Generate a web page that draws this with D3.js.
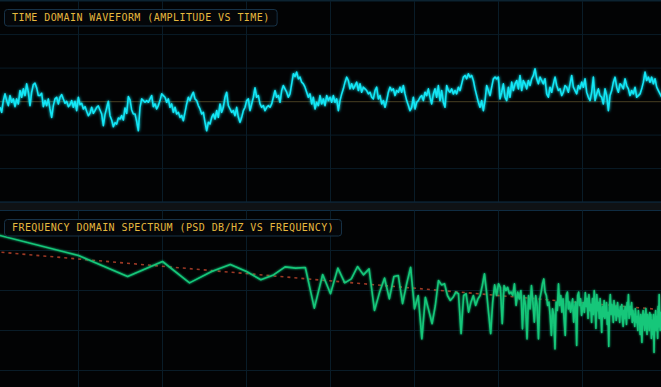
<!DOCTYPE html>
<html><head><meta charset="utf-8">
<script src="https://cdn.jsdelivr.net/npm/d3@7"></script>
<style>html,body{margin:0;padding:0;background:#020304;overflow:hidden}</style>
</head><body><svg id="c" width="661" height="387"></svg>
<script>
// ---------- DATA ----------
const waveform = [
-0.17,-0.32,0.03,0.23,0.03,-0.12,0.18,-0.02,0.08,-0.15,
0.08,-0.07,0.33,0.13,0.38,0.18,0.53,0.28,-0.12,0.28,
0.51,0.55,0.41,0.18,0.18,0.25,-0.15,0.03,-0.12,0.08,
-0.22,-0.47,-0.12,0.08,0.13,-0.07,0.13,0.21,0.08,-0.05,
0.01,-0.15,-0.09,0.03,-0.17,0.01,-0.27,0.13,-0.09,-0.05,
-0.22,-0.15,-0.29,-0.42,-0.35,-0.17,-0.35,-0.27,-0.17,-0.13,
-0.25,-0.37,-0.72,-0.39,-0.19,0.01,-0.42,-0.55,-0.75,-0.63,
-0.67,-0.49,-0.52,-0.42,-0.55,-0.19,-0.35,0.15,0.05,-0.25,
-0.37,-0.37,-0.59,-0.87,-0.17,0.08,0.03,-0.02,0.03,-0.02,
0.08,0.18,-0.15,-0.07,-0.22,-0.12,0.03,0.23,0.18,0.13,
-0.02,0.08,-0.17,-0.07,-0.32,-0.17,-0.37,-0.32,-0.47,-0.42,
-0.57,-0.32,-0.07,0.13,0.03,0.18,0.28,0.08,0.03,-0.12,
-0.22,-0.37,-0.32,-0.62,-0.87,-0.62,-0.67,-0.47,-0.37,-0.52,
-0.27,-0.47,-0.07,-0.32,-0.17,0.13,0.28,-0.12,-0.22,-0.32,
-0.27,-0.42,-0.17,-0.47,-0.62,-0.47,-0.27,-0.17,0.03,0.08,
-0.27,-0.07,0.13,0.41,0.13,0.18,-0.07,-0.17,-0.12,-0.27,
-0.17,-0.12,-0.17,-0.07,0.13,0.33,0.13,0.18,-0.02,0.33,
0.48,0.38,0.28,0.13,0.23,0.53,0.83,0.75,0.88,0.68,
0.73,0.58,0.53,0.43,0.28,0.13,0.23,-0.07,0.13,-0.22,
-0.02,-0.12,0.18,-0.07,0.08,-0.12,0.18,0.03,
0.13,-0.02,0.18,-0.02,0.08,-0.27,0.03,0.23,0.38,0.58,
0.73,0.63,0.38,0.53,0.38,0.48,0.58,0.33,0.53,0.28,
0.43,0.38,0.33,0.23,0.28,0.13,0.08,0.33,0.43,0.08,
0.18,-0.07,0.03,-0.17,0.03,0.28,0.43,0.33,0.38,0.18,
0.33,0.28,0.43,0.28,0.48,0.23,0.03,-0.12,-0.27,-0.17,
0.13,-0.22,-0.02,0.03,0.13,0.18,0.03,0.28,0.18,0.38,
0.13,-0.07,0.23,0.38,0.13,0.48,0.03,0.33,-0.02,-0.17,
0.48,0.33,0.28,0.38,0.23,0.33,0.23,0.43,0.33,0.53,
0.73,0.78,0.68,0.83,0.73,0.78,0.63,0.38,0.18,-0.02,
-0.17,0.03,-0.27,0.03,0.48,0.33,0.18,0.43,0.68,0.73,
0.68,0.73,0.08,0.28,0.53,0.13,0.03,0.43,0.13,0.58,
0.33,0.53,0.63,0.38,0.78,0.33,0.63,0.53,0.38,0.63,
0.48,0.68,0.78,0.98,0.68,0.53,0.73,0.63,0.53,0.68,
0.23,0.13,0.43,0.28,0.53,0.73,0.48,0.33,0.38,0.18,
0.28,0.48,0.43,0.28,0.53,0.78,0.43,0.33,0.23,0.48,
0.38,0.58,0.43,0.68,0.28,0.13,0.03,0.28,0.73,0.03,
0.23,0.38,0.18,0.13,-0.07,0.38,0.18,-0.27,0.18,0.33,
0.58,0.73,0.43,0.28,0.53,0.48,0.38,0.68,0.48,0.38,
0.18,0.33,0.23,0.43,0.13,0.18,0.23,0.38,0.58,0.88,
0.63,0.73,0.58,0.73,0.53,0.68,0.43,0.33,0.23,0.13
];

const spectrumDb = [
-15.9,-21.25,-26.5,-22.75,-28.1,-25.25,-23.5,-25.25,-27.3,-26.1,
-24.1,-24.4,-24.25,-34.4,-26,-30.8,-24.4,-28.1,-27.1,-24,
-26.1,-24.6,-35,-30.4,-26.9,-32.1,-26.5,-26.25,-33.3,-28.3,
-24.2,-34.6,-31.25,-42.1,-31.7,-35,-38.3,-33.75,-27.5,-28.6,
-28.3,-31.25,-32.5,-31.7,-30.4,-30.8,-40.8,-31.25,-30.8,-35.4,
-32.9,-31.25,-33.75,-32.1,-31.25,-28.75,-25.8,-30.4,-35.8,-40.8,
-32.9,-28.6,-31.25,-28.3,-29.2,-38.3,-28.75,-30,-29.2,-30.8,
-30.4,-31.25,-28.3,-33.75,-30.4,-32.1,-30,-39.6,-31.25,-33.75,
-42.1,-31.25,-34.6,-28.75,-32.9,-37.9,-31.25,-33.75,-42.1,-32.1,
-30.4,-28.3,-27.1,-30.4,-31.25,-33.75,-32.9,-36.25,-41.25,-34.6,
-36.25,-44.6,-32.9,-35,-28.3,-33.75,-31.25,-35.4,-32.1,-37.1,
-41.25,-31.25,-30.4,-34.6,-32.9,-35.4,-33.75,-32.1,-37.9,-34.6,
-32.9,-43.75,-31.25,-30.4,-33.75,-32.1,-36.25,-34.6,
-33,-35.5,-30.5,-34,-32,-37,-31,-35,-33.5,-38,-32,-36,
-30,-34,-39.5,-31,-35,-33,-37,-32,-36,-40.5,
-34,-36.5,-32.5,-37,-35,-33,-38.5,-35.5,-44,-34,
-31,-36,-33.5,-35,-38,-32.5,-36,-34,-37.5,-35,
-33,-36.5,-35,-38,-34,-36,-33.5,-37,-39,-35,
-37,-34,-36,-38.5,-33,-35,-31,-37,-35.5,-34,
-36,-33,-38,-35,-37.5,-36,-39,-34.5,-37,-38,
-36.5,-40,-35,-38,-37,-41,-36,-39,-43,-37,
-35,-38.5,-36,-40,-37,-34.5,-39,-41,-36,-38,
-37,-40,-35.5,-39,-36,-42,-37.5,-38,-41,-36,
-45.5,-37,-39,-35,-40,-36.5,-38,-42,-34,-39,
-31,-37,-40,-35.5,-38,
-36,-39,-37,-41,-35,-38,-40,-36,-39,-37,-38
];
const spectrumFreq = spectrumDb.map((d, i) => i + 1); // FFT bin frequencies (Hz)

const trendFreq = [1, 256];
const trendDb = [-20.3, -34.9];

const titles = ["TIME DOMAIN WAVEFORM (AMPLITUDE VS TIME)", "FREQUENCY DOMAIN SPECTRUM (PSD DB/HZ VS FREQUENCY)"];
const ampTicks = [-3, -2, -1, 1, 2, 3];
const timeTicks = [1, 2, 3, 4, 5, 6, 7];
const dbTicks = [-20, -30, -40, -50];
const freqTicks = [2, 4, 8, 16, 32, 64, 128];

// ---------- LAYOUT ----------
const svg = d3.select("#c");
const X0 = -5.5, X1 = 666.5;
const topY0 = 1.1, topY1 = 202.1;
const botY0 = 210.5, botY1 = 410.5;
const gridCol = "#091c28";

const defs = svg.append("defs");
const glow = defs.append("filter").attr("id", "glow").attr("x", "-5%").attr("y", "-20%").attr("width", "110%").attr("height", "140%");
glow.append("feGaussianBlur").attr("in", "SourceGraphic").attr("stdDeviation", 1.4).attr("result", "b");
const m = glow.append("feMerge");
m.append("feMergeNode").attr("in", "b");
m.append("feMergeNode").attr("in", "SourceGraphic");
const glow2 = defs.append("filter").attr("id", "glow2").attr("x", "-5%").attr("y", "-20%").attr("width", "110%").attr("height", "140%");
glow2.append("feGaussianBlur").attr("in", "SourceGraphic").attr("stdDeviation", 0.8).attr("result", "b");
const m2 = glow2.append("feMerge");
m2.append("feMergeNode").attr("in", "b");
m2.append("feMergeNode").attr("in", "SourceGraphic");
defs.append("clipPath").attr("id", "clipBot").append("rect").attr("x", X0).attr("y", botY0).attr("width", X1 - X0).attr("height", botY1 - botY0);
defs.append("clipPath").attr("id", "clipTop").append("rect").attr("x", X0).attr("y", topY0).attr("width", X1 - X0).attr("height", topY1 - topY0);

svg.append("rect").attr("width", 661).attr("height", 387).attr("fill", "#020304");

// ---------- TOP PANEL ----------
const xWave = d3.scaleLinear().domain([0, waveform.length - 1]).range([0, 661.7]);
const xTime = d3.scaleLinear().domain([0, 8]).range([X0, X1]);
const yAmp = d3.scaleLinear().domain([-3, 3]).range([topY1, topY0]);

const gTop = svg.append("g");
gTop.selectAll(".hg").data(ampTicks).join("line")
  .attr("x1", X0).attr("x2", X1).attr("y1", d => yAmp(d)).attr("y2", d => yAmp(d))
  .attr("stroke", gridCol).attr("stroke-width", 1);
gTop.selectAll(".vg").data(timeTicks).join("line")
  .attr("x1", d => xTime(d)).attr("x2", d => xTime(d)).attr("y1", topY0).attr("y2", topY1)
  .attr("stroke", gridCol).attr("stroke-width", 1);
gTop.append("line").attr("x1", X0).attr("x2", X1).attr("y1", yAmp(0)).attr("y2", yAmp(0))
  .attr("stroke", "#3a331c").attr("stroke-width", 1.2);

gTop.append("path").datum(waveform)
  .attr("clip-path", "url(#clipTop)")
  .attr("fill", "none").attr("stroke", "#12e6f5").attr("stroke-width", 1.6)
  .attr("stroke-linejoin", "round")
  .attr("filter", "url(#glow)")
  .attr("d", d3.line().x((d, i) => xWave(i)).y(d => yAmp(d)));

// separator
svg.append("rect").attr("x", X0).attr("y", topY1).attr("width", X1 - X0).attr("height", botY0 - topY1).attr("fill", "#0f1215");
[topY1, botY0].forEach(y => svg.append("line").attr("x1", X0).attr("x2", X1).attr("y1", y).attr("y2", y).attr("stroke", "#0f2c42").attr("stroke-width", 1));
svg.append("line").attr("x1", X0).attr("x2", X1).attr("y1", topY0 - 0.5).attr("y2", topY0 - 0.5).attr("stroke", "#0e2636").attr("stroke-width", 1);

// ---------- BOTTOM PANEL ----------
const xFreq = d3.scaleLog().base(2).domain([1, 256]).range([X0, X1]);
const yDb = d3.scaleLinear().domain([-10, -60]).range([botY0, botY1]);
const gBot = svg.append("g");
gBot.selectAll(".hg").data(dbTicks).join("line")
  .attr("x1", X0).attr("x2", X1).attr("y1", d => yDb(d)).attr("y2", d => yDb(d))
  .attr("stroke", gridCol).attr("stroke-width", 1);
gBot.selectAll(".vg").data(freqTicks).join("line")
  .attr("x1", d => xFreq(d)).attr("x2", d => xFreq(d)).attr("y1", botY0).attr("y2", botY1)
  .attr("stroke", gridCol).attr("stroke-width", 1);

gBot.append("path").datum(trendFreq.map((f, i) => [f, trendDb[i]]))
  .attr("clip-path", "url(#clipBot)")
  .attr("fill", "none").attr("stroke", "#b8432c").attr("stroke-width", 1.6)
  .attr("stroke-dasharray", "3,4").attr("opacity", 0.85)
  .attr("d", d3.line().x(d => xFreq(d[0])).y(d => yDb(d[1])));

gBot.append("path").datum(spectrumDb)
  .attr("clip-path", "url(#clipBot)")
  .attr("fill", "none").attr("stroke", "#14c77a").attr("stroke-width", 1.6)
  .attr("stroke-linejoin", "round")
  .attr("filter", "url(#glow2)")
  .attr("d", d3.line().x((d, i) => xFreq(spectrumFreq[i])).y(d => yDb(d)));

// ---------- TITLES ----------
function titleBox(txt, x, baseline) {
  const g = svg.append("g");
  const t = g.append("text").attr("x", x).attr("y", baseline).text(txt)
    .attr("font-family", "'DejaVu Sans Mono', monospace").attr("font-size", 10)
    .attr("letter-spacing", 0.42).attr("fill", "#e6b93e");
  const bb = t.node().getBBox();
  g.insert("rect", "text").attr("x", 4.5).attr("y", baseline - 11.5)
    .attr("width", bb.width + 15).attr("height", 16.5).attr("rx", 3)
    .attr("fill", "#04070a").attr("fill-opacity", 0.9).attr("stroke", "#173247").attr("stroke-width", 1);
}
titleBox(titles[0], 12, 21);
titleBox(titles[1], 12, 231);
</script></body></html>
